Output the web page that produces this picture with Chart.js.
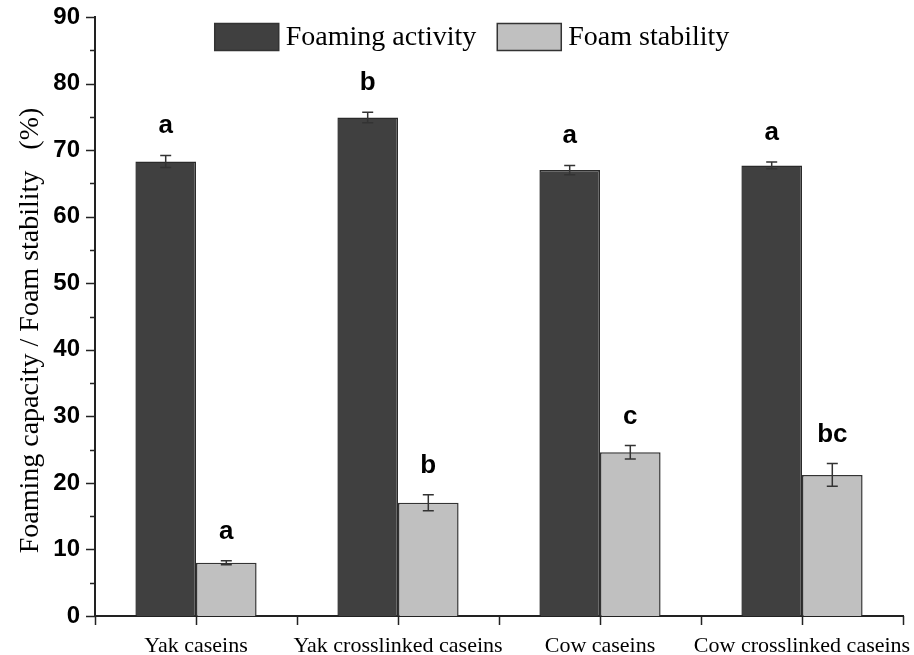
<!DOCTYPE html>
<html>
<head>
<meta charset="utf-8">
<script src="https://cdn.jsdelivr.net/npm/chart.js@4/dist/chart.umd.min.js"></script>
<style>
  html, body { margin: 0; padding: 0; background: #fff; }
  #wrap { width: 914px; height: 655px; }
</style>
</head>
<body>
<div id="wrap"><canvas id="chart" width="914" height="655"></canvas></div>
<script>
// Data
const categories = ['Yak caseins', 'Yak crosslinked caseins', 'Cow caseins', 'Cow crosslinked caseins'];
const seriesNames = ['Foaming activity', 'Foam stability'];
const foamingActivity = [68.3, 74.9, 67.0, 67.7];
const foamingActivityErr = [0.9, 0.8, 0.7, 0.5];
const foamStability = [8.0, 17.0, 24.6, 21.2];
const foamStabilityErr = [0.3, 1.2, 1.0, 1.7];
const activityLetters = ['a', 'b', 'a', 'a'];
const stabilityLetters = ['a', 'b', 'c', 'bc'];
const yTicks = [0, 10, 20, 30, 40, 50, 60, 70, 80, 90];

const AXIS = '#222222';
const errors = [foamingActivityErr, foamStabilityErr];
const letters = [activityLetters, stabilityLetters];

// Error bars + significance letters
const errorBars = {
    id: 'errorBars',
    afterDatasetsDraw(chart) {
        const { ctx, scales: { y } } = chart;
        ctx.save();
        chart.data.datasets.forEach((ds, di) => {
            const meta = chart.getDatasetMeta(di);
            meta.data.forEach((bar, i) => {
                const v = ds.data[i], e = errors[di][i];
                const top = y.getPixelForValue(v + e);
                const bot = y.getPixelForValue(v - e);
                ctx.strokeStyle = '#333';
                ctx.lineWidth = 1.5;
                ctx.beginPath();
                ctx.moveTo(bar.x, top); ctx.lineTo(bar.x, bot);
                ctx.moveTo(bar.x - 5.5, top); ctx.lineTo(bar.x + 5.5, top);
                ctx.moveTo(bar.x - 5.5, bot); ctx.lineTo(bar.x + 5.5, bot);
                ctx.stroke();

                ctx.fillStyle = '#000';
                ctx.font = 'bold 26px "Liberation Sans", Arial, sans-serif';
                ctx.textAlign = 'center';
                ctx.textBaseline = 'alphabetic';
                ctx.fillText(letters[di][i], bar.x, top - 22);
            });
        });
        ctx.restore();
    }
};

// Tick marks on both axes (major/minor)
const axisTicks = {
    id: 'axisTicks',
    afterDraw(chart) {
        const { ctx, scales: { x, y } } = chart;
        ctx.save();
        ctx.strokeStyle = AXIS;
        ctx.lineWidth = 1.5;
        ctx.beginPath();
        for (let v = 0; v <= 90; v += 5) {
            const py = Math.round(y.getPixelForValue(v)) + 0.5;
            const len = v % 10 === 0 ? 9 : 5;
            ctx.moveTo(x.left, py); ctx.lineTo(x.left - len, py);
        }
        const n = categories.length;
        const w = (x.right - x.left) / n;
        for (let i = 0; i <= n; i++) {
            const px = Math.round(x.left + i * w) + 0.5;
            ctx.moveTo(px, y.bottom); ctx.lineTo(px, y.bottom + 9);
        }
        for (let i = 0; i < n; i++) {
            const px = Math.round(x.getPixelForValue(i)) + 0.5;
            ctx.moveTo(px, y.bottom); ctx.lineTo(px, y.bottom + 9);
        }
        ctx.stroke();
        ctx.restore();
    }
};

// Legend drawn inside the plot top
const topLegend = {
    id: 'topLegend',
    afterDraw(chart) {
        const { ctx } = chart;
        ctx.save();
        ctx.font = '28px "Liberation Serif", "Times New Roman", serif';
        const boxW = 64, boxH = 27, gapText = 7, gapItem = 21;
        const widths = seriesNames.map(s => ctx.measureText(s).width);
        let total = 0;
        widths.forEach((w, i) => { total += boxW + gapText + w + (i ? gapItem : 0); });
        let cx = 472 - total / 2;
        const cy = 37;
        chart.data.datasets.forEach((ds, i) => {
            ctx.fillStyle = ds.backgroundColor;
            ctx.fillRect(cx, cy - boxH / 2, boxW, boxH);
            ctx.strokeStyle = '#333';
            ctx.lineWidth = 1.5;
            ctx.strokeRect(cx, cy - boxH / 2, boxW, boxH);
            ctx.fillStyle = '#000';
            ctx.textAlign = 'left';
            ctx.textBaseline = 'middle';
            ctx.fillText(seriesNames[i], cx + boxW + gapText, cy + 1);
            cx += boxW + gapText + widths[i] + gapItem;
        });
        ctx.restore();
    }
};

new Chart(document.getElementById('chart'), {
    type: 'bar',
    data: {
        labels: categories,
        datasets: [{
            label: seriesNames[0],
            data: foamingActivity,
            backgroundColor: '#404040',
            borderColor: '#2a2a2a',
            borderWidth: 1.5,
            categoryPercentage: 0.6,
            barPercentage: 1.0
        }, {
            label: seriesNames[1],
            data: foamStability,
            backgroundColor: '#c0c0c0',
            borderColor: '#333',
            borderWidth: 1.5,
            categoryPercentage: 0.6,
            barPercentage: 1.0
        }]
    },
    options: {
        responsive: false,
        animation: false,
        devicePixelRatio: 1,
        layout: { padding: { top: 17, right: 11, left: 0, bottom: 0 } },
        plugins: {
            legend: { display: false },
            tooltip: { enabled: false }
        },
        scales: {
            x: {
                grid: { display: false, drawTicks: false },
                border: { display: true, color: AXIS, width: 2 },
                ticks: {
                    color: '#000',
                    padding: 17,
                    maxRotation: 0,
                    autoSkip: false,
                    font: { family: '"Liberation Serif", "Times New Roman", serif', size: 22 }
                },
                afterFit: s => {
                    s.height = 39;
                    s.paddingLeft = 0;
                    s.paddingRight = 0;
                }
            },
            y: {
                min: 0,
                max: 90,
                afterBuildTicks: s => { s.ticks = yTicks.map(v => ({ value: v })); },
                grid: { display: false, drawTicks: false },
                border: { display: true, color: AXIS, width: 2 },
                ticks: {
                    color: '#000',
                    padding: 15,
                    font: { family: '"Liberation Sans", Arial, sans-serif', size: 24, weight: 'bold' }
                },
                title: {
                    display: true,
                    text: 'Foaming capacity / Foam stability   (%)    ',
                    color: '#000',
                    padding: { top: 14, bottom: 0 },
                    font: { family: '"Liberation Serif", "Times New Roman", serif', size: 28 }
                },
                afterFit: s => {
                    s.width = 95;
                    s.paddingTop = 0;
                    s.paddingBottom = 0;
                }
            }
        }
    },
    plugins: [errorBars, axisTicks, topLegend]
});
</script>
</body>
</html>
